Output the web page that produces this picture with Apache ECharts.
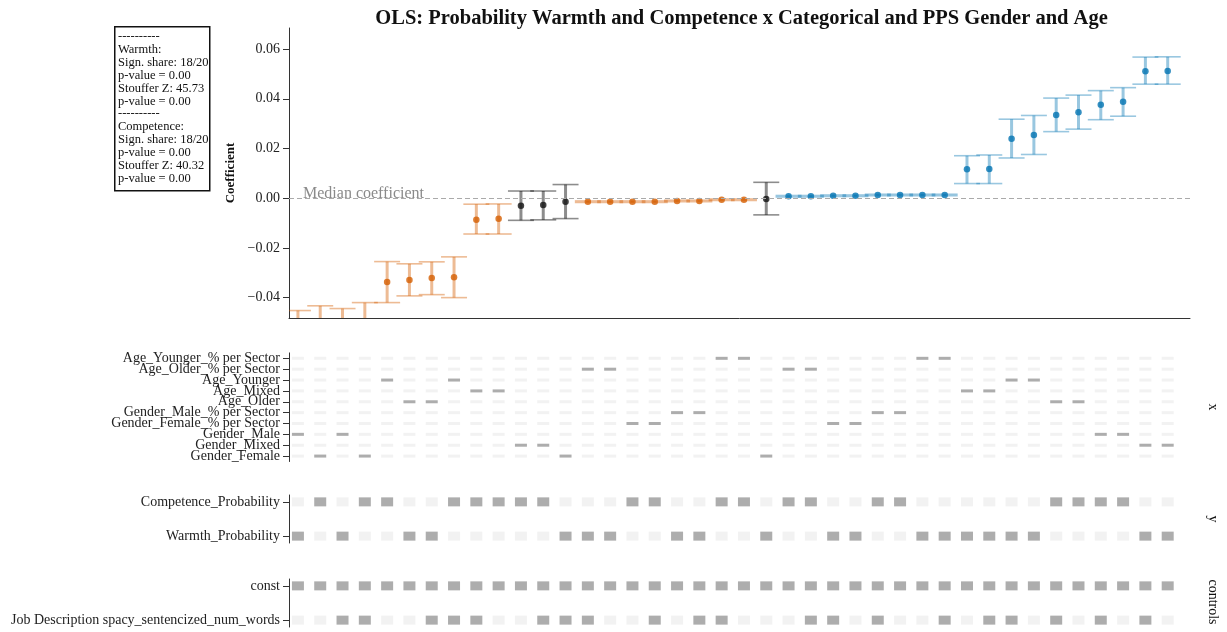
<!DOCTYPE html>
<html>
<head>
<meta charset="utf-8">
<script src="https://cdn.jsdelivr.net/npm/echarts@6/dist/echarts.min.js"></script>
<style>
  html, body { margin: 0; padding: 0; background: #fff; }
  #chart { width: 1227px; height: 632px; }
</style>
</head>
<body>
<div id="chart"></div>
<script>
// ---------------- DATA ----------------
const TITLE = 'OLS: Probability Warmth and Competence x Categorical and PPS Gender and Age';

// specification index (1..40), sorted by coefficient
const specIndex = [1,2,3,4,5,6,7,8,9,10,11,12,13,14,15,16,17,18,19,20,21,22,23,24,25,26,27,28,29,30,31,32,33,34,35,36,37,38,39,40];

const coef = [-0.0535,-0.0515,-0.0525,-0.0502,-0.0337,-0.0329,-0.0321,-0.0318,-0.0087,-0.0083,
              -0.0030,-0.0027,-0.0014,-0.0014,-0.0014,-0.0014,-0.0014,-0.0011,-0.0011,-0.0006,
              -0.0006,-0.0003,0.0008,0.0008,0.0010,0.0010,0.0013,0.0013,0.0013,0.0013,
              0.0117,0.0118,0.0239,0.0254,0.0335,0.0346,0.0376,0.0388,0.0511,0.0512];

const ciLow = [-0.0618,-0.0598,-0.0608,-0.0585,-0.0420,-0.0393,-0.0388,-0.0400,-0.0144,-0.0144,
               -0.0089,-0.0087,-0.0082,-0.0017,-0.0017,-0.0017,-0.0017,-0.0014,-0.0014,-0.0009,
               -0.0009,-0.0067,0.0005,0.0005,0.0007,0.0007,0.0010,0.0010,0.0010,0.0010,
               0.0059,0.0059,0.0162,0.0176,0.0268,0.0278,0.0316,0.0330,0.0459,0.0459];

const ciHigh = [-0.0452,-0.0433,-0.0444,-0.0420,-0.0255,-0.0264,-0.0256,-0.0236,-0.0024,-0.0023,
                0.0029,0.0029,0.0055,-0.0011,-0.0011,-0.0011,-0.0011,-0.0008,-0.0008,-0.0003,
                -0.0003,0.0064,0.0011,0.0011,0.0013,0.0013,0.0016,0.0016,0.0016,0.0016,
                0.0171,0.0174,0.0318,0.0333,0.0403,0.0415,0.0433,0.0445,0.0568,0.0569];

// significance class: 'neg' significant negative, 'pos' significant positive, 'ns' not significant
const signif = ['neg','neg','neg','neg','neg','neg','neg','neg','neg','neg',
                'ns','ns','ns','neg','neg','neg','neg','neg','neg','neg',
                'neg','ns','pos','pos','pos','pos','pos','pos','pos','pos',
                'pos','pos','pos','pos','pos','pos','pos','pos','pos','pos'];

// x-variable choices (rows listed bottom -> top)
const xRows = ['Gender_Female','Gender_Mixed','Gender_Male','Gender_Female_% per Sector',
               'Gender_Male_% per Sector','Age_Older','Age_Mixed','Age_Younger',
               'Age_Older_% per Sector','Age_Younger_% per Sector'];
const specX = ['Gender_Male','Gender_Female','Gender_Male','Gender_Female','Age_Younger',
               'Age_Older','Age_Older','Age_Younger','Age_Mixed','Age_Mixed',
               'Gender_Mixed','Gender_Mixed','Gender_Female','Age_Older_% per Sector','Age_Older_% per Sector',
               'Gender_Female_% per Sector','Gender_Female_% per Sector','Gender_Male_% per Sector','Gender_Male_% per Sector','Age_Younger_% per Sector',
               'Age_Younger_% per Sector','Gender_Female','Age_Older_% per Sector','Age_Older_% per Sector','Gender_Female_% per Sector',
               'Gender_Female_% per Sector','Gender_Male_% per Sector','Gender_Male_% per Sector','Age_Younger_% per Sector','Age_Younger_% per Sector',
               'Age_Mixed','Age_Mixed','Age_Younger','Age_Younger','Age_Older',
               'Age_Older','Gender_Male','Gender_Male','Gender_Mixed','Gender_Mixed'];

// y-variable choices (rows bottom -> top)
const yRows = ['Warmth_Probability','Competence_Probability'];
const specY = ['Warmth_Probability','Competence_Probability','Warmth_Probability','Competence_Probability','Competence_Probability',
               'Warmth_Probability','Warmth_Probability','Competence_Probability','Competence_Probability','Competence_Probability',
               'Competence_Probability','Competence_Probability','Warmth_Probability','Warmth_Probability','Warmth_Probability',
               'Competence_Probability','Competence_Probability','Warmth_Probability','Warmth_Probability','Competence_Probability',
               'Competence_Probability','Warmth_Probability','Competence_Probability','Competence_Probability','Warmth_Probability',
               'Warmth_Probability','Competence_Probability','Competence_Probability','Warmth_Probability','Warmth_Probability',
               'Warmth_Probability','Warmth_Probability','Warmth_Probability','Warmth_Probability','Competence_Probability',
               'Competence_Probability','Competence_Probability','Competence_Probability','Warmth_Probability','Warmth_Probability'];

// controls (rows bottom -> top); const is always included
const ctrlRows = ['Job Description spacy_sentencized_num_words','const'];
const specWords = [0,0,1,1,0,0,1,1,1,0,
                   0,1,1,1,0,0,1,0,1,1,
                   0,0,0,1,1,0,1,0,0,1,
                   0,1,1,0,1,0,1,0,1,0];

const yTicks = [-0.04,-0.02,0.00,0.02,0.04,0.06];

const legendLines = ['----------','Warmth:','Sign. share: 18/20','p-value = 0.00','Stouffer Z: 45.73','p-value = 0.00',
                     '----------','Competence:','Sign. share: 18/20','p-value = 0.00','Stouffer Z: 40.32','p-value = 0.00'];

// ---------------- BUILD ----------------
const FONT = "'Liberation Serif', 'DejaVu Serif', serif";
const TXT = '#222';
const pointColor = { neg: '#d55e00', pos: '#0173b2', ns: '#111111' };
const barColor = { neg: 'rgba(213,94,0,0.42)', pos: 'rgba(1,115,178,0.40)', ns: 'rgba(0,0,0,0.45)' };
const ACTIVE = '#999999', INACTIVE = '#efefef';

const sortedCoef = coef.slice().sort((a,b)=>a-b);
const MEDIAN = (sortedCoef[19] + sortedCoef[20]) / 2;

const errData = specIndex.map((s,i)=>[s, ciLow[i], ciHigh[i]]);
const ptData = specIndex.map((s,i)=>({ value:[s, coef[i]], itemStyle:{ color: pointColor[signif[i]] } }));

const xActive=[], xInactive=[];
specIndex.forEach((s,i)=>{
  xRows.forEach((r,j)=>{ (specX[i]===r ? xActive : xInactive).push([s,j]); });
});
const yActive=[], yInactive=[];
specIndex.forEach((s,i)=>{
  yRows.forEach((r,j)=>{ (specY[i]===r ? yActive : yInactive).push([s,j]); });
});
const cActive=[], cInactive=[];
specIndex.forEach((s,i)=>{
  cActive.push([s,1]);
  (specWords[i] ? cActive : cInactive).push([s,0]);
});

const X_MIN = 0.6, X_MAX = 41.0;
const GL = 289, GW = 901;
const grids = [
  { left: GL, width: GW, top: 28, height: 290 },
  { left: GL, width: GW, top: 352.9, height: 108.6 },
  { left: GL, width: GW, top: 495, height: 48 },
  { left: GL, width: GW, top: 579, height: 48 }
];

function hiddenX(gi){
  return { type:'value', gridIndex: gi, min: X_MIN, max: X_MAX,
    axisLine:{ show: gi===0, onZero:false, lineStyle:{ color:'#333', width:1 } },
    axisTick:{show:false}, axisLabel:{show:false}, splitLine:{show:false} };
}
function categoryY(gi, rows){
  return { type:'category', gridIndex: gi, data: rows, boundaryGap: true,
    axisLine:{ show:true, lineStyle:{ color:'#333', width:1 } },
    axisTick:{ show:true, length:6, alignWithLabel:true, interval:0, lineStyle:{ color:'#333' } },
    axisLabel:{ show:true, interval:0, margin: 9, fontFamily: FONT, fontSize: 14, color: TXT },
    splitLine:{show:false} };
}
function matrixY(gi, rows, min, max){
  const vals = rows.map((_,j)=>j);
  return { type:'value', gridIndex: gi, min, max,
    axisLine:{ show:true, lineStyle:{ color:'#333', width:1 } },
    axisTick:{ show:true, length:6, customValues: vals, lineStyle:{ color:'#333' } },
    axisLabel:{ show:true, customValues: vals, margin: 9, fontFamily: FONT, fontSize: 14, color: TXT,
      showMinLabel: true, showMaxLabel: true,
      formatter: v => rows[Math.round(v)] },
    splitLine:{show:false} };
}

const option = {
  animation: false,
  backgroundColor: '#fff',
  title: { text: TITLE, left: GL + GW/2 - 3, top: 3, textAlign: 'center',
    textStyle: { fontFamily: FONT, fontWeight: 'bold', fontSize: 20.5, color: '#111' } },
  grid: grids,
  xAxis: [hiddenX(0), hiddenX(1), hiddenX(2), hiddenX(3)],
  yAxis: [
    { type:'value', gridIndex:0, min:-0.0482, max:0.0685,
      name:'Coefficient', nameLocation:'middle', nameGap: 50,
      nameTextStyle:{ fontFamily: FONT, fontWeight:'bold', fontSize: 13, color:'#111' },
      axisLine:{ show:true, lineStyle:{ color:'#333', width:1 } },
      axisTick:{ show:true, length:6, customValues: yTicks, lineStyle:{ color:'#333' } },
      axisLabel:{ show:true, customValues: yTicks, margin: 9, fontFamily: FONT, fontSize: 14, color: TXT,
        showMinLabel: true, showMaxLabel: true,
        formatter: v => (v < 0 ? '\u2212' : '') + Math.abs(v).toFixed(2) },
      splitLine:{show:false} },
    categoryY(1, xRows),
    matrixY(2, yRows, -0.2, 1.2),
    matrixY(3, ctrlRows, -0.2, 1.2)
  ],
  series: [
    { type:'custom', xAxisIndex:0, yAxisIndex:0, z: 2,
      data: errData,
      encode: { x: 0, y: [1,2] },
      renderItem: function(params, api){
        const i = params.dataIndex;
        const col = barColor[signif[i]];
        const x = api.value(0);
        const pHi = api.coord([x, api.value(2)]);
        const pLo = api.coord([x, api.value(1)]);
        const cs = params.coordSys;
        const top = cs.y, bot = cs.y + cs.height, l = cs.x, r = cs.x + cs.width;
        const half = 13;
        const ch = [];
        const y1 = Math.max(pHi[1], top), y2 = Math.min(pLo[1], bot);
        if (y1 < y2) ch.push({ type:'line', shape:{ x1:pHi[0], y1:y1, x2:pHi[0], y2:y2 }, style:{ stroke: col, lineWidth: 3 } });
        [pHi[1], pLo[1]].forEach(yy=>{
          if (yy >= top && yy <= bot) {
            ch.push({ type:'line', shape:{ x1: Math.max(pHi[0]-half, l), y1: yy, x2: Math.min(pHi[0]+half, r), y2: yy },
              style:{ stroke: col, lineWidth: 1.6 } });
          }
        });
        return { type:'group', children: ch };
      }
    },
    { type:'scatter', xAxisIndex:0, yAxisIndex:0, z: 3, symbol:'circle', symbolSize: 6.5,
      data: ptData, clip: true,
      markLine: { silent:true, symbol:'none', animation:false,
        lineStyle:{ type:[5,3], color:'#aaaaaa', width:1.1 },
        label:{ show:true, position:'insideStartTop', formatter:'Median coefficient', distance:[14,-4],
          fontFamily: FONT, fontSize: 16, color:'#8a8a8a' },
        data: [ { yAxis: MEDIAN } ] }
    },
    { type:'scatter', xAxisIndex:1, yAxisIndex:1, symbol:'rect', symbolSize:[12,3], data: xInactive, itemStyle:{ color: INACTIVE } },
    { type:'scatter', xAxisIndex:1, yAxisIndex:1, symbol:'rect', symbolSize:[12,3], data: xActive, itemStyle:{ color: ACTIVE } },
    { type:'scatter', xAxisIndex:2, yAxisIndex:2, symbol:'rect', symbolSize:[12,9], data: yInactive, itemStyle:{ color: INACTIVE } },
    { type:'scatter', xAxisIndex:2, yAxisIndex:2, symbol:'rect', symbolSize:[12,9], data: yActive, itemStyle:{ color: ACTIVE } },
    { type:'scatter', xAxisIndex:3, yAxisIndex:3, symbol:'rect', symbolSize:[12,9], data: cInactive, itemStyle:{ color: INACTIVE } },
    { type:'scatter', xAxisIndex:3, yAxisIndex:3, symbol:'rect', symbolSize:[12,9], data: cActive, itemStyle:{ color: ACTIVE } }
  ],
  graphic: [
    { type:'rect', left:114, top:26, shape:{ width:95, height:164 },
      style:{ fill:'#fff', stroke:'#111', lineWidth:1.5 } },
    { type:'text', left:118, top:30,
      style:{ text: legendLines.join('\n'), fontFamily: FONT, fontSize: 12.5, lineHeight: 12.95, fill:'#111' } },
    { type:'text', x:1213, y:407, rotation:-Math.PI/2,
      style:{ text:'x', fontFamily: FONT, fontSize: 14, fill:'#111', align:'center', verticalAlign:'middle' } },
    { type:'text', x:1213, y:519, rotation:-Math.PI/2,
      style:{ text:'y', fontFamily: FONT, fontSize: 14, fill:'#111', align:'center', verticalAlign:'middle' } },
    { type:'text', x:1213, y:602, rotation:-Math.PI/2,
      style:{ text:'controls', fontFamily: FONT, fontSize: 14, fill:'#111', align:'center', verticalAlign:'middle' } }
  ]
};

const chart = echarts.init(document.getElementById('chart'), null, { renderer: 'canvas' });
chart.setOption(option);
</script>
</body>
</html>
